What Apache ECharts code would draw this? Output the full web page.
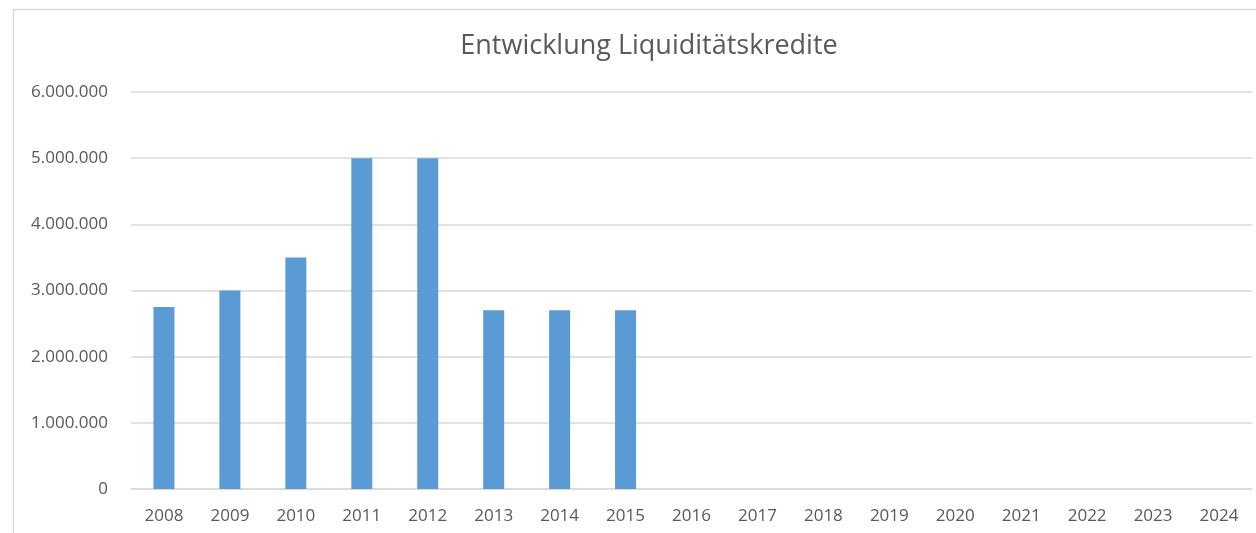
<!DOCTYPE html>
<html>
<head>
    <meta charset="utf-8">
    <title>Entwicklung Liquiditätskredite</title>
    <script src="https://cdn.jsdelivr.net/npm/echarts@6/dist/echarts.min.js"></script>
    <style>
        html, body { margin: 0; padding: 0; background: #fff; overflow: hidden; }
    </style>
</head>
<body>
    <div id="main" style="width: 1256px;height:533px;"></div>

    <script type="text/javascript">
        // Daten
        var years = ['2008', '2009', '2010', '2011', '2012', '2013', '2014', '2015', '2016',
                     '2017', '2018', '2019', '2020', '2021', '2022', '2023', '2024'];
        var kredite = [2750000, 3000000, 3500000, 5000000, 5000000, 2700000, 2700000, 2700000,
                       null, null, null, null, null, null, null, null, null];
        var yTicks = [0, 1000000, 2000000, 3000000, 4000000, 5000000, 6000000];

        var myChart = echarts.init(document.getElementById('main'));

        function fmt(v) {
            return String(v).replace(/\B(?=(\d{3})+(?!\d))/g, '.');
        }

        var option = {
            animation: false,
            textStyle: { fontFamily: 'Open Sans, Noto Sans, sans-serif' },
            graphic: [{
                type: 'rect',
                shape: { x: 13.5, y: 9.5, width: 1300, height: 600 },
                style: { fill: 'none', stroke: '#d9d9d9', lineWidth: 1.5 },
                silent: true
            }],
            title: {
                text: 'Entwicklung Liquiditätskredite',
                left: 644,
                textAlign: 'center',
                top: 28,
                textStyle: { color: '#595959', fontSize: 27, fontWeight: 'normal' }
            },
            grid: { left: 131, right: 4, top: 92, bottom: 44 },
            xAxis: {
                type: 'category',
                data: years,
                axisLine: { lineStyle: { color: '#d9d9d9', width: 1.5 } },
                axisTick: { show: false },
                axisLabel: { color: '#595959', fontSize: 17, margin: 19 }
            },
            yAxis: {
                type: 'value',
                min: yTicks[0],
                max: yTicks[yTicks.length - 1],
                interval: 1000000,
                axisLine: { show: false },
                axisTick: { show: false },
                splitLine: { lineStyle: { color: '#d9d9d9', width: 1.5 } },
                axisLabel: { color: '#595959', fontSize: 17, margin: 23, formatter: fmt }
            },
            series: [{
                name: 'Liquiditätskredite',
                type: 'bar',
                data: kredite,
                barWidth: 21,
                itemStyle: { color: '#5b9bd5' }
            }]
        };

        myChart.setOption(option);
    </script>
</body>
</html>
